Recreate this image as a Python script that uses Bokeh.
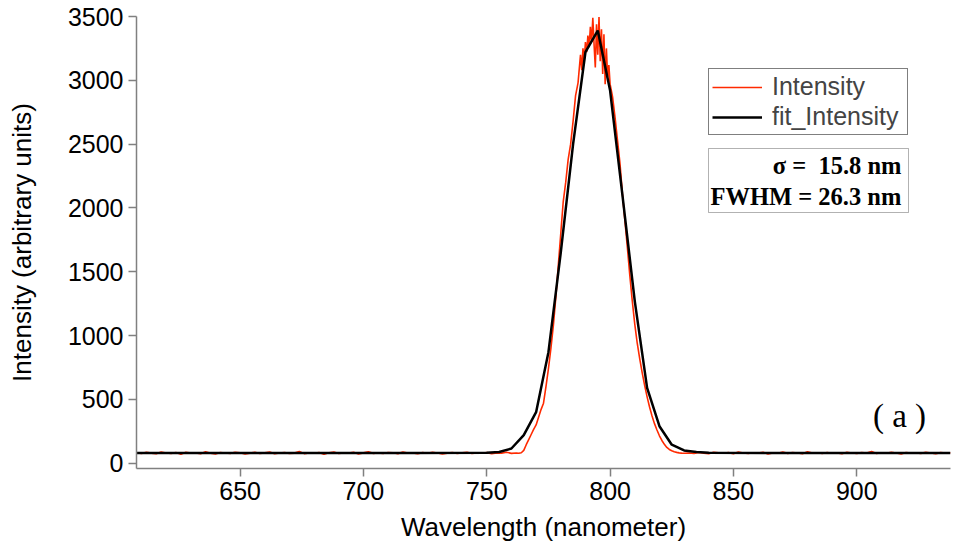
from bokeh.plotting import figure
from bokeh.models import Legend, LegendItem, Label, BoxAnnotation, FixedTicker
from bokeh.embed import file_html
from bokeh.resources import INLINE

# ---------------- data ----------------
x_ticks = [650, 700, 750, 800, 850, 900]
y_ticks = [0, 500, 1000, 1500, 2000, 2500, 3000, 3500]

# measured spectrum: left baseline (2 nm grid)
base_left_x = list(range(608, 763, 2))
base_left_y = [82, 76, 85, 79, 74, 88, 80, 77, 83, 71,
               86, 79, 81, 75, 90, 78, 73, 84, 80, 77,
               86, 82, 72, 79, 85, 76, 81, 88, 74, 80,
               83, 77, 79, 92, 75, 81, 78, 84, 70, 82,
               87, 76, 80, 79, 85, 73, 81, 89, 77, 80,
               76, 84, 82, 75, 88, 79, 81, 74, 83, 78,
               86, 80, 72, 79, 84, 77, 81, 85, 76, 80,
               78, 83, 74, 81, 79, 86, 77, 80]

# measured spectrum: peak region
peak_x = [763, 764, 765, 766, 767, 768, 769, 770, 771, 772, 773, 774, 775, 776,
          777, 778, 779, 780, 781, 782, 783, 784, 785, 786, 787, 788, 788.5, 789,
          789.5, 790, 790.5, 791, 791.5, 792, 792.5, 793, 793.5, 794, 794.5, 795,
          795.5, 796, 796.5, 797, 797.5, 798, 798.5, 799, 799.5, 800, 801, 802,
          803, 804, 805, 806, 807, 808, 809, 810, 811, 812, 813, 814, 815, 816,
          817, 818, 819, 820, 821, 822, 823, 824, 825, 826, 827, 828, 829, 830]
peak_y = [78, 82, 100, 145, 185, 225, 265, 300, 360, 420, 470, 600, 740, 900,
          1080, 1300, 1550, 1800, 2050, 2200, 2380, 2500, 2680, 2880, 2980, 3200, 3080, 3250,
          3150, 3300, 3220, 3350, 3260, 3420, 3300, 3490, 3280, 3100, 3440, 3200,
          3495, 3150, 3400, 3050, 3360, 2970, 3250, 3020, 3120, 2970, 2870, 2710,
          2530, 2350, 2110, 1900, 1690, 1470, 1270, 1090, 940, 820, 710, 610, 520, 440,
          370, 310, 260, 215, 178, 148, 124, 108, 98, 90, 85, 81, 79, 78]

# measured spectrum: right baseline (2 nm grid)
base_right_x = list(range(832, 939, 2))
base_right_y = [80, 77, 84, 79, 75, 86, 81, 78, 83, 74,
                88, 80, 76, 82, 79, 85, 73, 81, 78, 87,
                77, 83, 80, 75, 89, 79, 82, 76, 84, 78,
                81, 74, 86, 80, 77, 83, 79, 91, 76, 82,
                78, 85, 80, 73, 84, 79, 81, 77, 86, 80,
                75, 83, 79, 82]

intensity_x = base_left_x + peak_x + base_right_x
intensity_y = base_left_y + peak_y + base_right_y

# Gaussian fit curve
fit_x = [608, 640, 680, 720, 750, 755, 760, 765, 770, 775, 780, 785, 790, 795,
         800, 805, 810, 815, 820, 825, 830, 835, 840, 880, 938]
fit_y = [80, 80, 80, 80, 81, 88, 115, 220, 400, 870, 1650, 2500, 3220, 3390,
         2920, 2100, 1270, 590, 290, 145, 100, 88, 82, 80, 80]

# ---------------- figure ----------------
FL, FB = 136, 468  # frame left / bottom in page pixels

p = figure(width=954, height=550, x_range=(608, 938), y_range=(-41.5, 3500),
           output_backend="svg", toolbar_location=None,
           min_border_left=136, min_border_right=4, min_border_top=16,
           min_border_bottom=82)
p.outline_line_color = None
p.grid.visible = False

r_int = p.line(intensity_x, intensity_y, line_color="#ff2a00", line_width=1.6)
r_fit = p.line(fit_x, fit_y, line_color="black", line_width=2.5)

for ax in (p.xaxis[0], p.yaxis[0]):
    ax.axis_line_color = "#808080"
    ax.axis_line_width = 1.5
    ax.major_tick_line_color = "#808080"
    ax.major_tick_line_width = 1.5
    ax.major_tick_out = 8
    ax.major_tick_in = 0
    ax.minor_tick_line_color = None
    ax.major_label_text_font = "Liberation Sans"
    ax.major_label_text_font_size = "25px"
    ax.major_label_text_color = "black"
    ax.axis_label_text_font = "Liberation Sans"
    ax.axis_label_text_font_size = "26px"
    ax.axis_label_text_font_style = "normal"
    ax.axis_label_text_color = "black"
    ax.major_label_standoff = 5

p.xaxis.ticker = FixedTicker(ticks=x_ticks)
p.yaxis.ticker = FixedTicker(ticks=y_ticks)
p.xaxis.axis_label = "Wavelength (nanometer)"
p.yaxis.axis_label = "Intensity (arbitrary units)"
p.xaxis.axis_label_standoff = 9
p.yaxis.axis_label_standoff = 28

legend = Legend(items=[LegendItem(label="Intensity", renderers=[r_int]),
                       LegendItem(label="fit_Intensity", renderers=[r_fit])],
                location=(708 - FL, FB - 135),
                border_line_color="black", border_line_width=1,
                background_fill_color="white", background_fill_alpha=1,
                label_text_font="Liberation Sans", label_text_font_size="25px",
                glyph_width=50, glyph_height=26, label_height=26, label_width=132,
                label_standoff=10, padding=3, spacing=1, margin=0)
p.add_layout(legend)

stats_box = BoxAnnotation(left=708 - FL, right=908 - FL, top=FB - 148, bottom=FB - 212,
                          left_units="screen", right_units="screen",
                          top_units="screen", bottom_units="screen",
                          fill_color="white", fill_alpha=1,
                          line_color="black", line_width=1)
p.add_layout(stats_box)

p.add_layout(Label(x=901 - FL, y=FB - 165, x_units="screen", y_units="screen",
                   text="\u03c3 =\u00a0 15.8 nm", text_align="right", text_baseline="middle",
                   text_font="Liberation Serif", text_font_style="bold",
                   text_font_size="24.5px", text_color="black"))
p.add_layout(Label(x=710 - FL, y=FB - 196, x_units="screen", y_units="screen",
                   text="FWHM = 26.3 nm", text_align="left", text_baseline="middle",
                   text_font="Liberation Serif", text_font_style="bold",
                   text_font_size="24.5px", text_color="black"))
p.add_layout(Label(x=899 - FL, y=FB - 415, x_units="screen", y_units="screen",
                   text="( a )", text_align="center", text_baseline="middle",
                   text_font="Liberation Serif", text_font_size="33px",
                   text_color="black"))

open("out.html", "w").write(file_html(p, INLINE))
